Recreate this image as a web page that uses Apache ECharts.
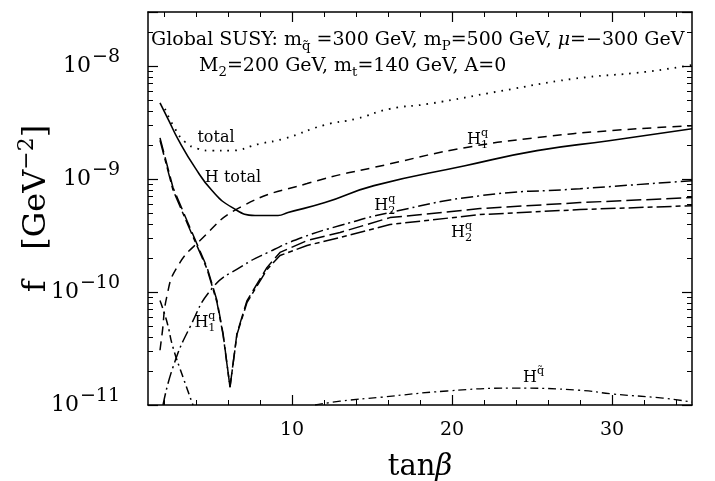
<!DOCTYPE html>
<html>
<head>
<meta charset="utf-8">
<script src="https://cdn.jsdelivr.net/npm/echarts@6/dist/echarts.min.js"></script>
<style>
html, body { margin: 0; background: #fff; }
#chart { width: 715px; height: 481px; }
</style>
</head>
<body>
<div id="chart"></div>
<script>
var FONT = '"DejaVu Serif", "Liberation Serif", serif';

// axis ranges and ticks
var X_MIN = 1, X_MAX = 35;
var Y_MIN = 1e-11, Y_MAX = 3e-8;
var xMajor = [10, 20, 30];
var xMinor = [2, 4, 6, 8, 12, 14, 16, 18, 22, 24, 26, 28, 32, 34];
var yMinor = [2e-11, 3e-11, 4e-11, 5e-11, 6e-11, 7e-11, 8e-11, 9e-11,
              2e-10, 3e-10, 4e-10, 5e-10, 6e-10, 7e-10, 8e-10, 9e-10,
              2e-9, 3e-9, 4e-9, 5e-9, 6e-9, 7e-9, 8e-9, 9e-9,
              2e-8, 3e-8];

// curves, tan(beta) vs f [GeV^-2]
var totalX = [2.06, 2.69, 3.31, 4.125, 5.0, 6.125, 8.0, 9.5, 12.06, 14.0, 16.125, 18.56, 23.06, 27.56, 32.06, 35];
var totalY = [4.17e-9, 2.78e-9, 2.13e-9, 1.85e-9, 1.78e-9, 1.78e-9, 2.05e-9, 2.27e-9, 3.01e-9, 3.4e-9, 4.17e-9, 4.62e-9, 6.0e-9, 7.68e-9, 8.85e-9, 1.02e-8];

var hTotalX = [1.75, 2.31, 2.875, 3.94, 5.0, 6.25, 7.69, 9.125, 9.75, 12.06, 15.125, 20.81, 25.31, 29.81, 35];
var hTotalY = [4.72e-9, 3.27e-9, 2.25e-9, 1.26e-9, 7.9e-10, 5.6e-10, 4.75e-10, 4.75e-10, 5.05e-10, 6.18e-10, 8.73e-10, 1.31e-9, 1.78e-9, 2.18e-9, 2.78e-9];

var h1qUpX = [1.75, 1.875, 2.19, 2.81, 4.25, 6.75, 10.94, 16.125, 20.81, 25.31, 29.81, 35];
var h1qUpY = [3.05e-11, 4.2e-11, 9.3e-11, 1.65e-10, 2.85e-10, 5.6e-10, 9.1e-10, 1.36e-9, 1.89e-9, 2.32e-9, 2.67e-9, 2.95e-9];

var h2qUpX = [1.75, 2.56, 3.625, 4.69, 5.31, 5.69, 6.125, 6.56, 7.19, 8.44, 9.25, 10.94, 13.0, 16.125, 21.75, 28.0, 35];
var h2qUpY = [2.31e-9, 8.4e-10, 3.7e-10, 1.65e-10, 8.4e-11, 4.3e-11, 1.44e-11, 4.3e-11, 8.4e-11, 1.65e-10, 2.24e-10, 2.85e-10, 3.36e-10, 4.55e-10, 5.47e-10, 6.18e-10, 6.84e-10];

var h2qLoX = [1.75, 2.56, 3.625, 4.69, 5.31, 5.69, 6.125, 6.56, 7.19, 8.44, 9.25, 10.94, 13.0, 16.125, 21.75, 28.0, 35];
var h2qLoY = [2.2e-9, 8.0e-10, 3.55e-10, 1.6e-10, 8.1e-11, 4.2e-11, 1.44e-11, 4.2e-11, 8.1e-11, 1.58e-10, 2.1e-10, 2.58e-10, 3.03e-10, 3.95e-10, 4.84e-10, 5.36e-10, 5.8e-10];

var dashDotX = [1.94, 2.56, 3.625, 5.06, 6.75, 8.5, 10.625, 13.0, 16.125, 21.75, 28.0, 35];
var dashDotY = [1e-11, 2.16e-11, 4.9e-11, 1.1e-10, 1.65e-10, 2.24e-10, 3.03e-10, 3.87e-10, 5.05e-10, 7.1e-10, 8.2e-10, 9.66e-10];

var h1qLoX = [1.75, 2.19, 2.56, 3.19, 3.81];
var h1qLoY = [8.4e-11, 5.4e-11, 3.24e-11, 1.76e-11, 1e-11];

var hSqX = [11.44, 13.0, 15.5, 19.69, 23.81, 28.0, 30.06, 33.19, 35];
var hSqY = [1e-11, 1.08e-11, 1.17e-11, 1.33e-11, 1.41e-11, 1.35e-11, 1.25e-11, 1.15e-11, 1.06e-11];

// text labels placed at data coordinates
var curveLabels = [
	{ at: [5.25, 2.32e-9], parts: ['total'] },
	{ at: [6.31, 1.03e-9], parts: ['H total'] },
	{ at: [21.6, 2.22e-9], parts: ['H', { sup: 'q', sub: '1' }] },
	{ at: [15.8, 5.8e-10], parts: ['H', { sup: 'q', sub: '2' }] },
	{ at: [20.6, 3.36e-10], parts: ['H', { sup: 'q', sub: '2' }] },
	{ at: [4.56, 5.3e-11], parts: ['H', { sup: 'q', sub: '1' }] },
	{ at: [25.1, 1.74e-11], parts: ['H', { sup: 'q\u0303' }] }
];
var line1 = ['Global SUSY: m', { sub: 'q\u0303' }, ' =300 GeV, m', { sub: 'P' }, '=500 GeV, ', { t: '\u03bc', it: true }, '=\u2212300 GeV'];
var line2 = ['M', { sub: '2' }, '=200 GeV, m', { sub: 't' }, '=140 GeV, A=0'];

function zip(xs, ys) {
	return xs.map(function (x, i) { return [x, ys[i]]; });
}

var ctx = document.createElement('canvas').getContext('2d');
function measure(s, fs, st) {
	ctx.font = (st || 'normal') + ' ' + fs + 'px ' + FONT;
	return ctx.measureText(s).width;
}
function txt(x, y, s, fs, st) {
	return {
		type: 'text', x: x, y: y, z: 100,
		style: {
			text: s, fontSize: fs, fontFamily: FONT, fontStyle: st || 'normal', fill: '#000',
			align: 'left', verticalAlign: 'middle', textAlign: 'left', textVerticalAlign: 'middle'
		}
	};
}
// lays out text with sub/superscripts; returns elements and width
function layout(x0, y0, parts, fs) {
	var els = [], x = x0, s = fs * 0.7;
	parts.forEach(function (p) {
		if (typeof p === 'string') p = { t: p };
		if (p.t) {
			var st = p.it ? 'italic' : 'normal';
			els.push(txt(x, y0, p.t, fs, st));
			x += measure(p.t, fs, st);
		}
		var w = 0;
		if (p.sup) { els.push(txt(x, y0 - fs * 0.42, p.sup, s)); w = Math.max(w, measure(p.sup, s)); }
		if (p.sub) { els.push(txt(x, y0 + fs * 0.32, p.sub, s)); w = Math.max(w, measure(p.sub, s)); }
		x += w;
	});
	return { els: els, width: x - x0 };
}

function lineSeries(name, xs, ys, type, width, smooth) {
	return {
		name: name, type: 'line', data: zip(xs, ys),
		showSymbol: false, smooth: smooth,
		lineStyle: { color: '#000', width: width, type: type },
		animation: false
	};
}

var axisLine = { show: true, lineStyle: { color: '#000', width: 1.5 } };
var majorTick = { inside: true, length: 10, lineStyle: { color: '#000', width: 1.2 } };
var minorTickStyle = { color: '#000', width: 1 };
var lg = function (v) { return Math.log10(v); };

var mycharts = echarts.init(document.getElementById('chart'));
var option = {
	backgroundColor: '#fff',
	animation: false,
	grid: { left: 148, right: 23, top: 12, bottom: 76, outerBoundsMode: 'none' },
	xAxis: [
		{
			type: 'value', min: X_MIN, max: X_MAX, position: 'bottom',
			axisLine: axisLine, splitLine: { show: false },
			axisTick: Object.assign({ customValues: xMajor }, majorTick),
			axisLabel: { customValues: xMajor, margin: 16, fontSize: 19, fontFamily: FONT, color: '#000' },
			name: '{n|tan}{i|\u03b2}', nameLocation: 'middle', nameGap: 48, nameMoveOverlap: false,
			nameTextStyle: { rich: {
				n: { fontSize: 29, fontFamily: FONT, color: '#000' },
				i: { fontSize: 29, fontFamily: FONT, fontStyle: 'italic', color: '#000' }
			} }
		},
		{
			type: 'value', min: X_MIN, max: X_MAX, position: 'bottom',
			axisLine: { show: false }, splitLine: { show: false }, axisLabel: { show: false },
			axisTick: { inside: true, length: 5, customValues: xMinor, lineStyle: minorTickStyle }
		},
		{
			type: 'value', min: X_MIN, max: X_MAX, position: 'top',
			axisLine: axisLine, splitLine: { show: false }, axisLabel: { show: false },
			axisTick: Object.assign({ customValues: xMajor }, majorTick)
		},
		{
			type: 'value', min: X_MIN, max: X_MAX, position: 'top',
			axisLine: { show: false }, splitLine: { show: false }, axisLabel: { show: false },
			axisTick: { inside: true, length: 5, customValues: xMinor, lineStyle: minorTickStyle }
		}
	],
	yAxis: [
		{
			type: 'log', logBase: 10, min: Y_MIN, max: Y_MAX, position: 'left',
			axisLine: axisLine, splitLine: { show: false }, axisTick: majorTick,
			axisLabel: {
				margin: 28,
				formatter: function (v) {
					var e = Math.log10(v), r = Math.round(e);
					if (Math.abs(e - r) > 1e-6) return '';
					return '{b|10}{e|' + (r < 0 ? '\u2212' : '') + Math.abs(r) + '}';
				},
				rich: {
					b: { fontSize: 22, fontFamily: FONT, color: '#000' },
					e: { fontSize: 19, fontFamily: FONT, color: '#000', padding: [0, 0, 17, 1] }
				}
			},
			name: '{n|f   [GeV}{e|\u22122}{n|]}', nameLocation: 'middle', nameGap: 90, nameMoveOverlap: false,
			nameTextStyle: { rich: {
				n: { fontSize: 32, fontFamily: FONT, color: '#000' },
				e: { fontSize: 22, fontFamily: FONT, color: '#000', padding: [0, 0, 20, 0] }
			} }
		},
		{
			type: 'value', min: lg(Y_MIN), max: lg(Y_MAX), position: 'left',
			axisLine: { show: false }, splitLine: { show: false }, axisLabel: { show: false },
			axisTick: { inside: true, length: 5, customValues: yMinor.map(lg), lineStyle: minorTickStyle }
		},
		{
			type: 'log', logBase: 10, min: Y_MIN, max: Y_MAX, position: 'right',
			axisLine: axisLine, splitLine: { show: false }, axisTick: majorTick,
			axisLabel: { show: false }
		},
		{
			type: 'value', min: lg(Y_MIN), max: lg(Y_MAX), position: 'right',
			axisLine: { show: false }, splitLine: { show: false }, axisLabel: { show: false },
			axisTick: { inside: true, length: 5, customValues: yMinor.map(lg), lineStyle: minorTickStyle }
		}
	],
	series: [
		lineSeries('total', totalX, totalY, [1.6, 6], 1.8, 0.5),
		lineSeries('H total', hTotalX, hTotalY, 'solid', 1.6, 0.5),
		lineSeries('H1q', h1qUpX, h1qUpY, [9, 6], 1.5, 0.5),
		lineSeries('H2q a', h2qUpX, h2qUpY, [15, 5], 1.5, false),
		lineSeries('H2q b', h2qLoX, h2qLoY, [15, 4, 5, 4], 1.5, false),
		lineSeries('dashdot', dashDotX, dashDotY, [12, 4, 2, 4], 1.5, 0.5),
		lineSeries('H1q low', h1qLoX, h1qLoY, [8, 4, 2, 4], 1.5, 0.5),
		lineSeries('Hsq', hSqX, hSqY, [8, 4, 2, 4], 1.3, 0.5)
	]
};
mycharts.setOption(option);

// labels and the parameter text
var graphics = [];
curveLabels.forEach(function (l) {
	var p = mycharts.convertToPixel({ gridIndex: 0 }, l.at);
	var w = layout(0, 0, l.parts, 16).width;
	graphics = graphics.concat(layout(p[0] - w / 2, p[1], l.parts, 16).els);
});
graphics = graphics.concat(layout(151, 40, line1, 19).els);
graphics = graphics.concat(layout(199, 66, line2, 19).els);
mycharts.setOption({ graphic: graphics });
</script>
</body>
</html>
